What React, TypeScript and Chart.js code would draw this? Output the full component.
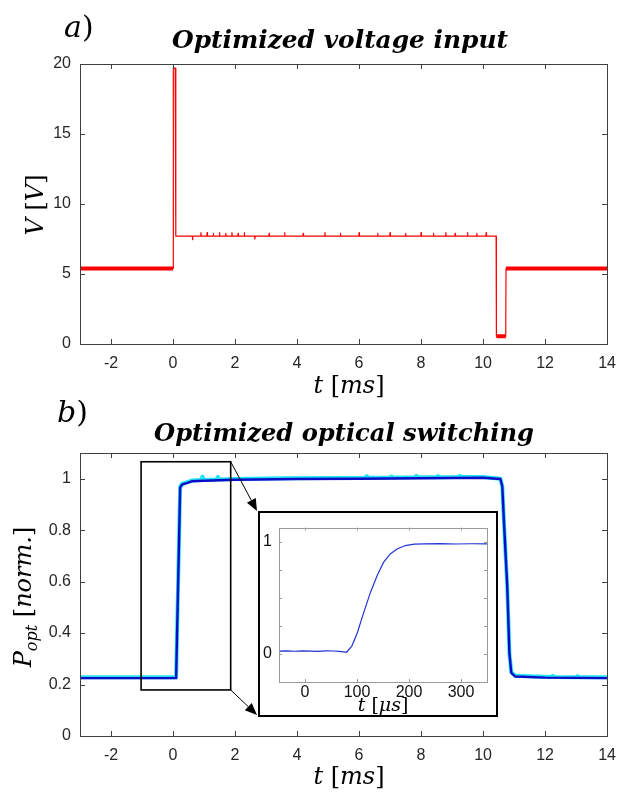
import React, { useEffect, useRef } from "react";
import { Chart, registerables } from "chart.js";

Chart.register(...registerables);

// ---------------- panel a: optimized voltage input ----------------
const voltTime = [-3, 0, 0.01, 0.07, 0.09, 10.42, 10.43, 10.73, 10.74, 14];
const voltValue = [5.4, 5.4, 19.7, 19.7, 7.7, 7.7, 0.55, 0.55, 5.4, 5.4];
const voltPlateau = 7.7;
const voltSpikeTime = [0.63, 0.9, 1.1, 1.3, 1.5, 1.7, 1.9, 2.1, 2.3, 2.64, 3.1, 3.6, 4.2, 4.9, 5.4, 6.0, 6.6, 7.0, 7.5, 8.0, 8.4, 8.8, 9.1, 9.5, 9.8, 10.1];
const voltSpikeValue = [7.45, 7.95, 7.95, 7.9, 7.95, 7.9, 7.95, 7.9, 7.95, 7.5, 7.9, 7.95, 7.9, 7.95, 7.9, 7.95, 7.9, 7.95, 7.9, 7.95, 7.9, 7.95, 7.9, 7.95, 7.9, 7.95];
const voltThickStart = [-3, 10.43, 10.74];
const voltThickEnd = [0, 10.73, 14];
const voltThickValue = [5.4, 0.55, 5.4];
const voltXTicks = [-2, 0, 2, 4, 6, 8, 10, 12, 14];
const voltYTicks = [0, 5, 10, 15, 20];

// ---------------- panel b: optimized optical switching ----------------
const optTime = [-3, 0.1, 0.23, 0.29, 0.49, 0.6, 1.0, 2.0, 4.0, 6.0, 8.0, 10.0, 10.56, 10.62, 10.67, 10.78, 10.85, 10.91, 11.04, 12.0, 14];
const optBlue = [0.225, 0.225, 0.965, 0.977, 0.985, 0.99, 0.992, 0.996, 0.999, 1.0, 1.002, 1.004, 0.999, 0.97, 0.84, 0.58, 0.32, 0.245, 0.231, 0.227, 0.225];
const cyanTime = [-3, 0.1, 0.23, 0.29, 0.6, 0.9, 0.95, 1.0, 1.4, 1.45, 1.5, 2.0, 3.5, 5.0, 6.2, 6.25, 6.3, 7.0, 7.05, 7.1, 7.8, 7.85, 7.9, 8.5, 8.55, 8.6, 9.2, 9.25, 9.3, 10.0, 10.56, 10.62, 10.67, 10.78, 10.85, 10.91, 11.04, 12.2, 12.25, 12.3, 13.0, 13.05, 13.1, 14];
const cyanValue = [0.228, 0.228, 0.968, 0.98, 0.993, 0.995, 1.008, 0.995, 0.997, 1.007, 0.997, 0.999, 1.002, 1.003, 1.004, 1.01, 1.004, 1.005, 1.009, 1.005, 1.006, 1.011, 1.006, 1.006, 1.01, 1.006, 1.007, 1.011, 1.007, 1.007, 1.0, 0.97, 0.84, 0.58, 0.32, 0.248, 0.234, 0.229, 0.234, 0.229, 0.228, 0.233, 0.228, 0.228];
const optXTicks = [-2, 0, 2, 4, 6, 8, 10, 12, 14];
const optYTicks = [0, 0.2, 0.4, 0.6, 0.8, 1];
const zoomBoxTime = [-1.03, 1.86];
const zoomBoxPower = [0.179, 1.066];

// ---------------- inset: rise in microseconds ----------------
const insetTime = [-50, -35, -20, -5, 10, 25, 40, 55, 65, 75, 80, 90, 100, 113, 126, 139, 151, 164, 177, 193, 210, 230, 260, 290, 320, 350];
const insetValue = [0.025, 0.028, 0.024, 0.027, 0.025, 0.022, 0.028, 0.026, 0.022, 0.018, 0.015, 0.07, 0.18, 0.37, 0.55, 0.7, 0.815, 0.89, 0.935, 0.965, 0.978, 0.98, 0.982, 0.979, 0.981, 0.98];
const insetXTicks = [0, 100, 200, 300];
const insetYTicks = [0, 0.25, 0.5, 0.75, 1];
const insetYLabels = ["0", "", "", "", "1"];

// ---------------- layout constants ----------------
const W = 626;
const PANEL_H = 400;
const B_TOP = 400;
const INSET = { left: 258, top: 511, width: 240, height: 206 };
const AXIS_COLOR = "#404040";
const TICK_COLOR = "#262626";
const SANS = '"Liberation Sans", Arial, sans-serif';
const MATH = '"DejaVu Serif", serif';

type Pt = { x: number; y: number | null };
type Run = { t: string; f: string; dy?: number };

function series(times: number[], values: number[]): Pt[] {
  return times.map((t, i) => ({ x: t, y: values[i] }));
}

function withSpikes(bt: number[], bv: number[], st: number[], sv: number[], level: number, hw: number): Pt[] {
  const pts = series(bt, bv);
  st.forEach((t, i) => {
    pts.push({ x: t - hw, y: level }, { x: t, y: sv[i] }, { x: t + hw, y: level });
  });
  pts.sort((a, b) => a.x - b.x);
  return pts;
}

function segments(starts: number[], ends: number[], vals: number[]): Pt[] {
  const pts: Pt[] = [];
  starts.forEach((s, i) => {
    pts.push({ x: s, y: vals[i] }, { x: ends[i], y: vals[i] }, { x: ends[i], y: null });
  });
  return pts;
}

function drawRuns(ctx: CanvasRenderingContext2D, runs: Run[], x: number, y: number, align: "left" | "center") {
  let total = 0;
  for (const r of runs) {
    ctx.font = r.f;
    total += ctx.measureText(r.t).width;
  }
  let cx = align === "center" ? x - total / 2 : x;
  ctx.textAlign = "left";
  ctx.textBaseline = "alphabetic";
  for (const r of runs) {
    ctx.font = r.f;
    ctx.fillText(r.t, cx, y + (r.dy || 0));
    cx += ctx.measureText(r.t).width;
  }
}

function drawFitted(ctx: CanvasRenderingContext2D, text: string, style: string, family: string, width: number, cx: number, y: number) {
  ctx.font = `${style} 20px ${family}`;
  const w = ctx.measureText(text).width;
  const size = (20 * width) / w;
  ctx.font = `${style} ${size.toFixed(2)}px ${family}`;
  ctx.textAlign = "center";
  ctx.textBaseline = "alphabetic";
  ctx.fillText(text, cx, y);
}

function drawFrame(chart: any, xTicks: number[], yTicks: number[], color: string, len: number) {
  const { ctx, chartArea: a, scales } = chart;
  const x = scales.x;
  const y = scales.y;
  ctx.save();
  ctx.strokeStyle = color;
  ctx.lineWidth = 1;
  ctx.beginPath();
  for (const v of xTicks) {
    const px = Math.round(x.getPixelForValue(v)) + 0.5;
    ctx.moveTo(px, a.bottom);
    ctx.lineTo(px, a.bottom - len);
    ctx.moveTo(px, a.top);
    ctx.lineTo(px, a.top + len);
  }
  for (const v of yTicks) {
    const py = Math.round(y.getPixelForValue(v)) + 0.5;
    ctx.moveTo(a.left, py);
    ctx.lineTo(a.left + len, py);
    ctx.moveTo(a.right, py);
    ctx.lineTo(a.right - len, py);
  }
  ctx.stroke();
  ctx.strokeRect(Math.round(a.left) + 0.5, Math.round(a.top) + 0.5, Math.round(a.right - a.left), Math.round(a.bottom - a.top));
  ctx.restore();
}

function arrow(ctx: CanvasRenderingContext2D, x1: number, y1: number, x2: number, y2: number) {
  const ang = Math.atan2(y2 - y1, x2 - x1);
  const L = 12;
  const H = 5;
  ctx.beginPath();
  ctx.moveTo(x1, y1);
  ctx.lineTo(x2 - L * Math.cos(ang), y2 - L * Math.sin(ang));
  ctx.stroke();
  ctx.beginPath();
  ctx.moveTo(x2, y2);
  ctx.lineTo(x2 - L * Math.cos(ang) + H * Math.sin(ang), y2 - L * Math.sin(ang) - H * Math.cos(ang));
  ctx.lineTo(x2 - L * Math.cos(ang) - H * Math.sin(ang), y2 - L * Math.sin(ang) + H * Math.cos(ang));
  ctx.closePath();
  ctx.fill();
}

function mainOptions(xTicks: number[], yTicks: number[], yMin: number, yMax: number, padTop: number, padBottom: number) {
  return {
    responsive: false,
    animation: false as const,
    devicePixelRatio: 1,
    layout: { padding: { left: 0, right: 9, top: padTop, bottom: padBottom } },
    plugins: { legend: { display: false }, tooltip: { enabled: false }, title: { display: false } },
    elements: { point: { radius: 0 }, line: { tension: 0 } },
    scales: {
      x: {
        type: "linear" as const,
        min: -3,
        max: 14,
        grid: { display: false, drawTicks: false },
        border: { display: false },
        ticks: { color: TICK_COLOR, font: { family: SANS, size: 16 }, padding: 10, maxRotation: 0, autoSkip: false },
        afterBuildTicks: (ax: any) => {
          ax.ticks = xTicks.map((v) => ({ value: v }));
        },
        afterFit: (ax: any) => {
          ax.height = 30;
        },
      },
      y: {
        type: "linear" as const,
        min: yMin,
        max: yMax,
        grid: { display: false, drawTicks: false },
        border: { display: false },
        ticks: {
          color: TICK_COLOR,
          font: { family: SANS, size: 16 },
          padding: 9,
          autoSkip: false,
          callback: (v: any) => String(Math.round(Number(v) * 10) / 10),
        },
        afterBuildTicks: (ax: any) => {
          ax.ticks = yTicks.map((v) => ({ value: v }));
        },
        afterFit: (ax: any) => {
          ax.width = 80;
        },
      },
    },
  };
}

export default function App() {
  const aRef = useRef<HTMLCanvasElement>(null);
  const bRef = useRef<HTMLCanvasElement>(null);
  const iRef = useRef<HTMLCanvasElement>(null);

  useEffect(() => {
    const charts: Chart[] = [];

    // ---- panel a ----
    const voltPoints = withSpikes(voltTime, voltValue, voltSpikeTime, voltSpikeValue, voltPlateau, 0.01);
    const voltThick = segments(voltThickStart, voltThickEnd, voltThickValue);
    const aPlugin = {
      id: "panelA",
      afterDraw(chart: any) {
        drawFrame(chart, voltXTicks, voltYTicks, AXIS_COLOR, 5);
        const ctx: CanvasRenderingContext2D = chart.ctx;
        ctx.save();
        ctx.fillStyle = "#000";
        drawRuns(ctx, [{ t: "a", f: `italic 30px ${MATH}` }, { t: ")", f: `30px ${MATH}` }], 64, 37, "left");
        drawFitted(ctx, "Optimized voltage input", "italic bold", MATH, 336, 340, 48);
        drawRuns(
          ctx,
          [
            { t: "t", f: `italic 24px ${MATH}` },
            { t: " [", f: `24px ${MATH}` },
            { t: "ms", f: `italic 24px ${MATH}` },
            { t: "]", f: `24px ${MATH}` },
          ],
          349,
          393,
          "center"
        );
        ctx.translate(35, 205);
        ctx.rotate(-Math.PI / 2);
        drawRuns(
          ctx,
          [
            { t: "V", f: `italic 24px ${MATH}` },
            { t: " [", f: `24px ${MATH}` },
            { t: "V", f: `italic 24px ${MATH}` },
            { t: "]", f: `24px ${MATH}` },
          ],
          0,
          8,
          "center"
        );
        ctx.restore();
      },
    };
    charts.push(
      new Chart(aRef.current!, {
        type: "line",
        data: {
          datasets: [
            { data: voltThick as any, borderColor: "#ff0000", borderWidth: 4, pointRadius: 0, spanGaps: false },
            { data: voltPoints as any, borderColor: "#ff0000", borderWidth: 1.2, pointRadius: 0, borderJoinStyle: "round" },
          ],
        },
        options: mainOptions(voltXTicks, voltYTicks, 0, 20, 64, 26) as any,
        plugins: [aPlugin],
      })
    );

    // ---- panel b ----
    const bPlugin = {
      id: "panelB",
      afterDatasetsDraw(chart: any) {
        const ctx: CanvasRenderingContext2D = chart.ctx;
        const x = chart.scales.x;
        const y = chart.scales.y;
        const x0 = x.getPixelForValue(zoomBoxTime[0]);
        const x1 = x.getPixelForValue(zoomBoxTime[1]);
        const y0 = y.getPixelForValue(zoomBoxPower[1]);
        const y1 = y.getPixelForValue(zoomBoxPower[0]);
        ctx.save();
        ctx.strokeStyle = "#000";
        ctx.fillStyle = "#000";
        ctx.lineWidth = 1.6;
        ctx.strokeRect(x0, y0, x1 - x0, y1 - y0);
        ctx.lineWidth = 1;
        arrow(ctx, x1, y0, INSET.left - 1, INSET.top - B_TOP);
        arrow(ctx, x1, y1, INSET.left - 1, INSET.top + INSET.height - B_TOP - 2);
        ctx.restore();
      },
      afterDraw(chart: any) {
        drawFrame(chart, optXTicks, optYTicks, AXIS_COLOR, 5);
        const ctx: CanvasRenderingContext2D = chart.ctx;
        ctx.save();
        ctx.fillStyle = "#000";
        drawRuns(ctx, [{ t: "b", f: `italic 30px ${MATH}` }, { t: ")", f: `30px ${MATH}` }], 57, 22, "left");
        drawFitted(ctx, "Optimized optical switching", "italic bold", MATH, 380, 344, 41);
        drawRuns(
          ctx,
          [
            { t: "t", f: `italic 24px ${MATH}` },
            { t: " [", f: `24px ${MATH}` },
            { t: "ms", f: `italic 24px ${MATH}` },
            { t: "]", f: `24px ${MATH}` },
          ],
          349,
          384,
          "center"
        );
        ctx.translate(23, 197);
        ctx.rotate(-Math.PI / 2);
        drawRuns(
          ctx,
          [
            { t: "P", f: `italic 24px ${MATH}` },
            { t: "opt", f: `italic 16px ${MATH}`, dy: 6 },
            { t: " [", f: `24px ${MATH}` },
            { t: "norm.", f: `italic 24px ${MATH}` },
            { t: "]", f: `24px ${MATH}` },
          ],
          0,
          8,
          "center"
        );
        ctx.restore();
      },
    };
    charts.push(
      new Chart(bRef.current!, {
        type: "line",
        data: {
          datasets: [
            { data: series(optTime, optBlue) as any, borderColor: "#0c0cc8", borderWidth: 2.4, pointRadius: 0, borderJoinStyle: "round" },
            { data: series(cyanTime, cyanValue) as any, borderColor: "#20e4f4", borderWidth: 4, pointRadius: 0, borderJoinStyle: "round" },
          ],
        },
        options: mainOptions(optXTicks, optYTicks, 0, 1.1, 53, 34) as any,
        plugins: [bPlugin],
      })
    );

    // ---- inset ----
    const iPlugin = {
      id: "inset",
      beforeDraw(chart: any) {
        const ctx: CanvasRenderingContext2D = chart.ctx;
        ctx.save();
        ctx.fillStyle = "#fff";
        ctx.fillRect(0, 0, chart.width, chart.height);
        ctx.restore();
      },
      afterDraw(chart: any) {
        drawFrame(chart, insetXTicks, insetYTicks, "#9a9a9a", 3);
        const ctx: CanvasRenderingContext2D = chart.ctx;
        ctx.save();
        ctx.fillStyle = "#000";
        drawRuns(
          ctx,
          [
            { t: "t", f: `italic 19px ${MATH}` },
            { t: " [", f: `19px ${MATH}` },
            { t: "μs", f: `italic 19px ${MATH}` },
            { t: "]", f: `19px ${MATH}` },
          ],
          125,
          200,
          "center"
        );
        ctx.strokeStyle = "#000";
        ctx.lineWidth = 2;
        ctx.strokeRect(1, 1, chart.width - 2, chart.height - 2);
        ctx.restore();
      },
    };
    charts.push(
      new Chart(iRef.current!, {
        type: "line",
        data: {
          datasets: [{ data: series(insetTime, insetValue) as any, borderColor: "#2233d6", borderWidth: 1.2, pointRadius: 0 }],
        },
        options: {
          responsive: false,
          animation: false,
          devicePixelRatio: 1,
          layout: { padding: { left: 0, right: 11, top: 7, bottom: 13 } },
          plugins: { legend: { display: false }, tooltip: { enabled: false } },
          elements: { point: { radius: 0 }, line: { tension: 0 } },
          scales: {
            x: {
              type: "linear",
              min: -50,
              max: 350,
              grid: { display: false, drawTicks: false },
              border: { display: false },
              ticks: { color: "#111", font: { family: SANS, size: 16 }, padding: 1, maxRotation: 0, autoSkip: false },
              afterBuildTicks: (ax: any) => {
                ax.ticks = insetXTicks.map((v) => ({ value: v }));
              },
              afterFit: (ax: any) => {
                ax.height = 22;
              },
            },
            y: {
              type: "linear",
              min: -0.25,
              max: 1.125,
              grid: { display: false, drawTicks: false },
              border: { display: false },
              ticks: {
                color: "#111",
                font: { family: SANS, size: 16 },
                padding: 7,
                autoSkip: false,
                callback: (_v: any, i: number) => insetYLabels[i],
              },
              afterBuildTicks: (ax: any) => {
                ax.ticks = insetYTicks.map((v) => ({ value: v }));
              },
              afterFit: (ax: any) => {
                ax.width = 21;
              },
            },
          },
        } as any,
        plugins: [iPlugin],
      })
    );

    return () => {
      charts.forEach((c) => c.destroy());
    };
  }, []);

  return (
    <div style={{ position: "absolute", left: 0, top: 0, width: W, height: 800, background: "#fff" }}>
      <canvas ref={aRef} width={W} height={PANEL_H} style={{ position: "absolute", left: 0, top: 0, width: W, height: PANEL_H }} />
      <canvas ref={bRef} width={W} height={PANEL_H} style={{ position: "absolute", left: 0, top: B_TOP, width: W, height: PANEL_H }} />
      <canvas
        ref={iRef}
        width={INSET.width}
        height={INSET.height}
        style={{ position: "absolute", left: INSET.left, top: INSET.top, width: INSET.width, height: INSET.height }}
      />
    </div>
  );
}
